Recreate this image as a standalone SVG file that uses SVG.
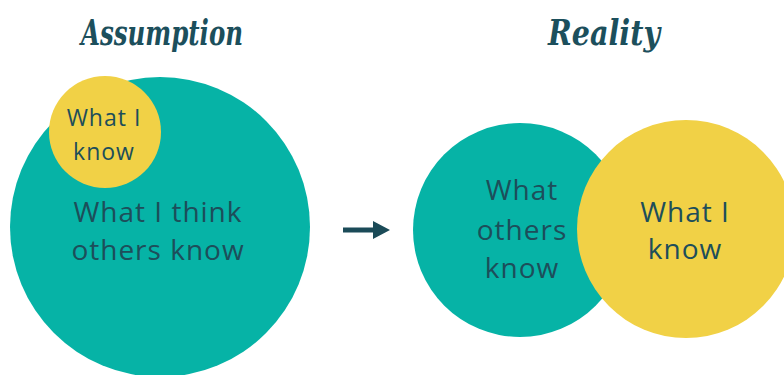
<svg xmlns="http://www.w3.org/2000/svg" width="784" height="375" viewBox="0 0 784 375">
<style>
.title{font-family:"DejaVu Serif","Liberation Serif",serif;font-style:italic;font-weight:bold;fill:#1c4f5c;font-size:36px}
.lbl{font-family:"Open Sans","Noto Sans",sans-serif;fill:#1d4e5a;text-anchor:middle;letter-spacing:1px}
.teal{fill:#06b3a6}
.yellow{fill:#f1d146}
</style>
<rect width="784" height="375" fill="#ffffff"/>
<g id="title-assumption"><text class="title" x="162" y="45" text-anchor="middle" textLength="162" lengthAdjust="spacingAndGlyphs">Assumption</text></g>
<g id="title-reality"><text class="title" x="604" y="45" text-anchor="middle" textLength="112" lengthAdjust="spacingAndGlyphs">Reality</text></g>
<g id="assumption-others">
<circle class="teal" cx="160" cy="227" r="150"/>
<text class="lbl" x="158" y="222" font-size="28">What I think</text>
<text class="lbl" x="158" y="260" font-size="28">others know</text>
</g>
<g id="assumption-me">
<circle class="yellow" cx="105" cy="132" r="56"/>
<text class="lbl" x="104" y="126" font-size="23">What I</text>
<text class="lbl" x="104" y="160" font-size="23">know</text>
</g>
<g id="connectors">
<path d="M343 227.5 H373 V221 L390 230 L373 239 V232.5 H343 Z" fill="#1b4b58"/>
</g>
<g id="reality-others">
<circle class="teal" cx="520" cy="230" r="107"/>
<text class="lbl" x="522" y="200" font-size="28">What</text>
<text class="lbl" x="522" y="240" font-size="28">others</text>
<text class="lbl" x="522" y="278" font-size="28">know</text>
</g>
<g id="reality-me">
<circle class="yellow" cx="686" cy="229" r="109"/>
<text class="lbl" x="685" y="222" font-size="28">What I</text>
<text class="lbl" x="685" y="259" font-size="28">know</text>
</g>
</svg>
